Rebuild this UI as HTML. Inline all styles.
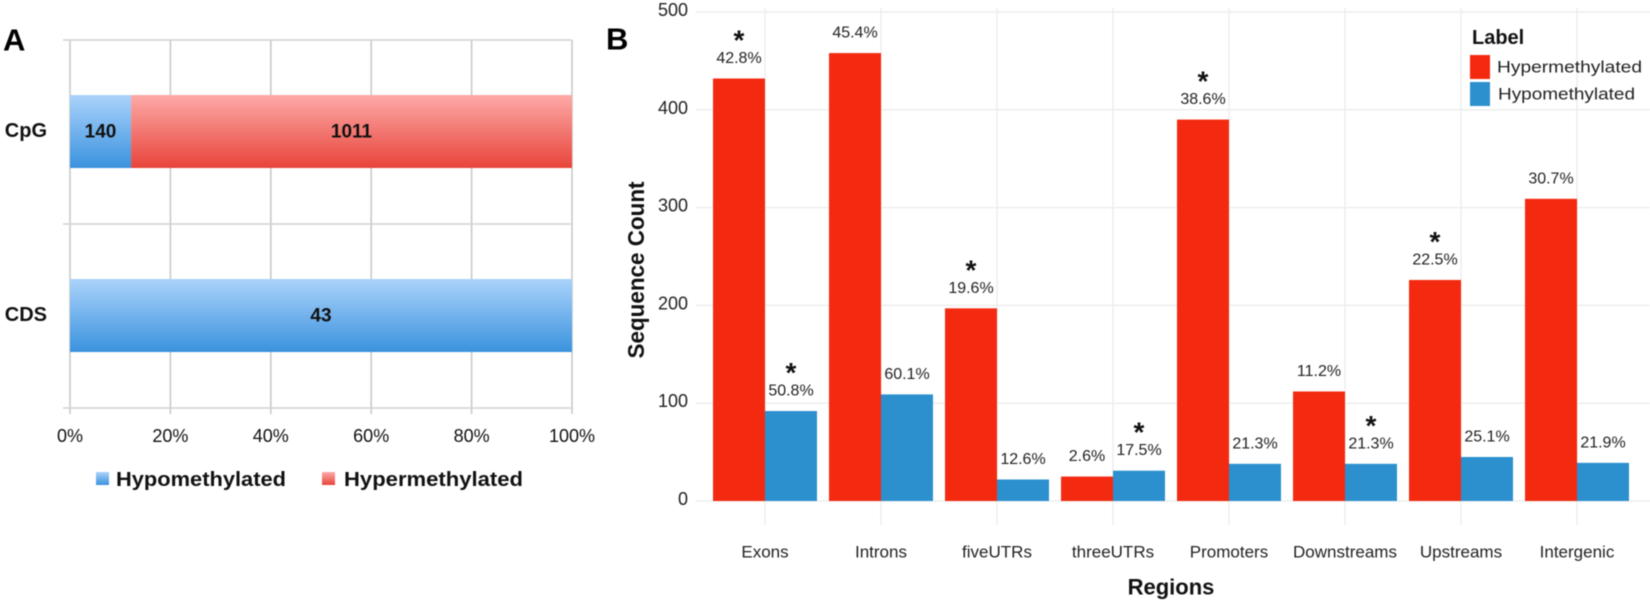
<!DOCTYPE html>
<html lang="en">
<head>
<meta charset="utf-8">
<title>Methylation charts</title>
<style>
html,body{margin:0;padding:0;background:#fff;width:1650px;height:604px;overflow:hidden}
svg{display:block;font-family:"Liberation Sans",sans-serif;filter:blur(0.5px)}
</style>
</head>
<body>
<svg id="fig" width="1650" height="604" viewBox="0 0 1650 604" xmlns="http://www.w3.org/2000/svg">
<defs>
<linearGradient id="gBlue" x1="0" y1="0" x2="0" y2="1"><stop offset="0" stop-color="#abd3fb"/><stop offset="1" stop-color="#3a92de"/></linearGradient>
<linearGradient id="gRed" x1="0" y1="0" x2="0" y2="1"><stop offset="0" stop-color="#fdaaa8"/><stop offset="1" stop-color="#e8443a"/></linearGradient>
</defs>
<g id="panelA"></g>
<g id="panelB"></g>
</svg>
<script>
// Panel A data
const aCategories = ['CpG', 'CDS'];
const aHypo = [140, 43];
const aHyper = [1011, 0];
const aTicks = [0, 20, 40, 60, 80, 100];

// Panel B data
const bCategories = ['Exons', 'Introns', 'fiveUTRs', 'threeUTRs', 'Promoters', 'Downstreams', 'Upstreams', 'Intergenic'];
const bHyper = [432, 458, 197, 25, 390, 112, 226, 309];
const bHypo = [92, 109, 22, 31, 38, 38, 45, 39];
const bHyperPct = ['42.8%', '45.4%', '19.6%', '2.6%', '38.6%', '11.2%', '22.5%', '30.7%'];
const bHypoPct = ['50.8%', '60.1%', '12.6%', '17.5%', '21.3%', '21.3%', '25.1%', '21.9%'];
const bHyperStar = [true, false, true, false, true, false, true, false];
const bHypoStar = [true, false, false, true, false, true, false, false];
const bTicks = [0, 100, 200, 300, 400, 500];

const NS = 'http://www.w3.org/2000/svg';
function mk(parent, tag, attrs, text) {
  const el = document.createElementNS(NS, tag);
  for (const k in attrs) el.setAttribute(k, attrs[k]);
  if (text !== undefined) el.textContent = text;
  parent.appendChild(el);
  return el;
}

// ---------- Panel A ----------
const A = document.getElementById('panelA');
const ax = p => 70 + (p / 100) * 502;
const aTop = 40, aBottom = 408;
const aBand = (aBottom - aTop) / aCategories.length;
const aBarH = 73;

aTicks.forEach(t => {
  const line = mk(A, 'line', {x1: ax(t), x2: ax(t), y1: aTop, y2: aBottom + 6, stroke: '#c9c9c9', 'stroke-width': 1.6});
  
  
  const lab = mk(A, 'text', {x: ax(t), y: 436, 'text-anchor': 'middle', 'dominant-baseline': 'central', 'font-size': 18, fill: '#111'}, t + '%');
  
  
});
[0, 1, 2].forEach(i => {
  const y = aTop + i * aBand;
  const line = mk(A, 'line', {x1: 63, x2: ax(100), y1: y, y2: y, stroke: '#d2d2d2', 'stroke-width': 1.6});
  
  
});
aCategories.forEach((c, i) => {
  const cy = aTop + aBand * (i + 0.5);
  const total = aHypo[i] + aHyper[i];
  const split = aHypo[i] / total * 100;
  const y = cy - aBarH / 2 - 0.5;
  const hypoBar = mk(A, 'rect', {x: ax(0), y: y, width: ax(split) - ax(0), height: aBarH, fill: 'url(#gBlue)'});
  
  
  const hypoLab = mk(A, 'text', {x: (ax(0) + ax(split)) / 2, y: cy, 'text-anchor': 'middle', 'dominant-baseline': 'central', 'font-size': 19, 'font-weight': 'bold', fill: '#111'}, aHypo[i]);
  
  
  if (aHyper[i] > 0) {
    const hyperBar = mk(A, 'rect', {x: ax(split), y: y, width: ax(100) - ax(split), height: aBarH, fill: 'url(#gRed)'});
    
    
    const hyperLab = mk(A, 'text', {x: (ax(split) + ax(100)) / 2, y: cy, 'text-anchor': 'middle', 'dominant-baseline': 'central', 'font-size': 19, 'font-weight': 'bold', fill: '#111'}, aHyper[i]);
    
    
  }
  const catLab = mk(A, 'text', {x: 47, y: cy - 1, 'text-anchor': 'end', 'dominant-baseline': 'central', 'font-size': 20, 'font-weight': 'bold', fill: '#111'}, c);
  
  
});
const aLetter = mk(A, 'text', {x: 3, y: 40, 'dominant-baseline': 'central', 'font-size': 31, 'font-weight': 'bold', fill: '#000'}, 'A');


const aSw1 = mk(A, 'rect', {x: 96, y: 472, width: 13, height: 13, fill: 'url(#gBlue)'});


const aLeg1 = mk(A, 'text', {x: 116, y: 480, 'dominant-baseline': 'central', 'font-size': 20, 'font-weight': 'bold', fill: '#111', textLength: 170, lengthAdjust: 'spacingAndGlyphs'}, 'Hypomethylated');


const aSw2 = mk(A, 'rect', {x: 322, y: 472, width: 13, height: 13, fill: 'url(#gRed)'});


const aLeg2 = mk(A, 'text', {x: 344, y: 480, 'dominant-baseline': 'central', 'font-size': 20, 'font-weight': 'bold', fill: '#111', textLength: 179, lengthAdjust: 'spacingAndGlyphs'}, 'Hypermethylated');



// ---------- Panel B ----------
const B = document.getElementById('panelB');
const by = v => 501 - v * 0.978;
const bx = i => 765 + i * 116;
const barW = 52;
const RED = '#f42a10', BLUE = '#2c90cf';

bTicks.forEach(t => {
  const g = mk(B, 'line', {x1: 696, x2: 1650, y1: by(t), y2: by(t), stroke: '#eeeeee', 'stroke-width': 1.5});
  
  
  const lab = mk(B, 'text', {x: 688, y: by(t) - 2, 'text-anchor': 'end', 'dominant-baseline': 'central', 'font-size': 18, fill: '#222'}, t);
  
  
});
bCategories.forEach((c, i) => {
  const g = mk(B, 'line', {x1: bx(i), x2: bx(i), y1: 8, y2: 525, stroke: '#eeeeee', 'stroke-width': 1.5});
  
  
});
function drawBar(i, v, color, dir, pct, star, series) {
  const x = dir < 0 ? bx(i) - barW : bx(i);
  const c = bCategories[i];
  const r = mk(B, 'rect', {x: x, y: by(v), width: barW, height: by(0) - by(v), fill: color});
  
  
  const t = mk(B, 'text', {x: x + barW / 2, y: by(v) - 20, 'text-anchor': 'middle', 'dominant-baseline': 'central', 'font-size': 16, fill: '#222'}, pct);
  
  
  if (star) {
    const s = mk(B, 'text', {x: x + barW / 2, y: by(v) - 29, 'text-anchor': 'middle', 'font-size': 28, 'font-weight': 'bold', fill: '#111'}, '*');
    
    
  }
}
bCategories.forEach((c, i) => {
  drawBar(i, bHyper[i], RED, -1, bHyperPct[i], bHyperStar[i], 'hyper');
  drawBar(i, bHypo[i], BLUE, 1, bHypoPct[i], bHypoStar[i], 'hypo');
  const lab = mk(B, 'text', {x: bx(i), y: 552, 'text-anchor': 'middle', 'dominant-baseline': 'central', 'font-size': 17, fill: '#222'}, c);
  
  
});
const xTitle = mk(B, 'text', {x: 1171, y: 587, 'text-anchor': 'middle', 'dominant-baseline': 'central', 'font-size': 22, 'font-weight': 'bold', fill: '#111'}, 'Regions');
xTitle.setAttribute('x', 1171);


const yTitle = mk(B, 'text', {x: 0, y: 0, transform: 'translate(636 270) rotate(-90)', 'text-anchor': 'middle', 'dominant-baseline': 'central', 'font-size': 23, 'font-weight': 'bold', fill: '#111', textLength: 177, lengthAdjust: 'spacingAndGlyphs'}, 'Sequence Count');


const bLetter = mk(B, 'text', {x: 606, y: 39, 'dominant-baseline': 'central', 'font-size': 31, 'font-weight': 'bold', fill: '#000'}, 'B');


const lgT = mk(B, 'text', {x: 1472, y: 38, 'dominant-baseline': 'central', 'font-size': 20, 'font-weight': 'bold', fill: '#111'}, 'Label');


const lgS1 = mk(B, 'rect', {x: 1470, y: 55, width: 20, height: 24, fill: RED});


const lgL1 = mk(B, 'text', {x: 1497, y: 67, 'dominant-baseline': 'central', 'font-size': 17, fill: '#222', textLength: 145, lengthAdjust: 'spacingAndGlyphs'}, 'Hypermethylated');


const lgS2 = mk(B, 'rect', {x: 1470, y: 82, width: 20, height: 24, fill: BLUE});


const lgL2 = mk(B, 'text', {x: 1498, y: 94, 'dominant-baseline': 'central', 'font-size': 17, fill: '#222', textLength: 137, lengthAdjust: 'spacingAndGlyphs'}, 'Hypomethylated');


</script>
</body>
</html>
